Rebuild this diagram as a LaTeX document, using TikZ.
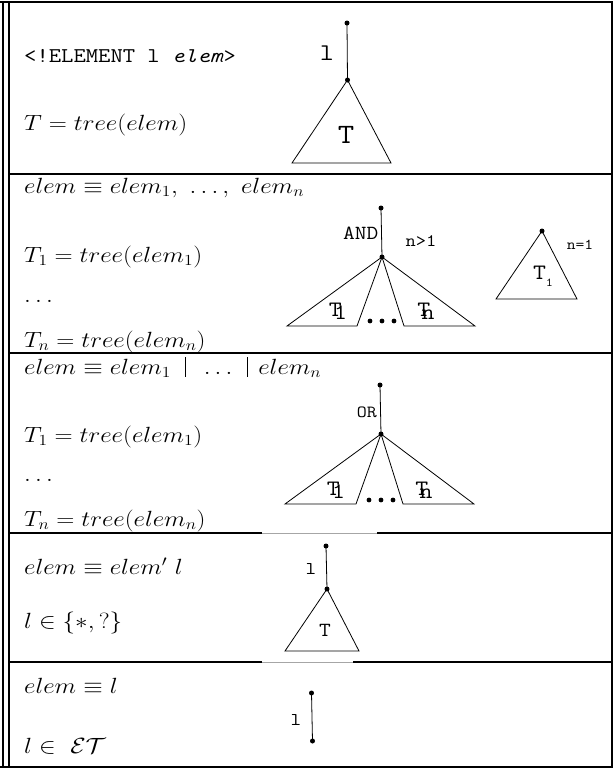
\RequirePackage{fix-cm}
\documentclass[tikz,border=0pt]{standalone}
\usepackage{graphicx}
\newcommand{\hx}[1]{\scalebox{1.14}[1]{#1}}
\newcommand{\Tsub}[2]{T\kern#1\raisebox{-0.15em}{#2}}
\newcommand{\tallbar}{\vrule height 17pt depth 2.5pt width 0.6pt}
\tikzset{
  frameline/.style={line width=2pt},
  sepline/.style={line width=2pt},
  fadedline/.style={line width=0.8pt, black!35},
  edge/.style={line width=0.8pt},
  dot/.style={circle, fill=black, inner sep=0pt, minimum size=5pt},
  smalldot/.style={circle, fill=black, inner sep=0pt, minimum size=4.8pt},
  mathtext/.style={anchor=base west, inner sep=0pt, font=\fontsize{22}{26}\selectfont},
  lbl/.style={inner sep=0pt},
}
\begin{document}
\begin{tikzpicture}[x=1pt,y=-1pt]
\useasboundingbox (0,0) rectangle (614,772);
\fill[white] (0,0) rectangle (614,772);
% outer frame
\draw[frameline] (0,1.5) -- (613,1.5);
\draw[frameline] (0,767) -- (613,767);
\draw[frameline] (3,1.5) -- (3,767);
\draw[frameline] (8.5,1.5) -- (8.5,767);
\draw[frameline] (611.5,1.5) -- (611.5,767);
% row separators
\draw[sepline] (8.5,174) -- (611.5,174);
\draw[sepline] (8.5,353) -- (611.5,353);
\draw[sepline] (8.5,533) -- (262,533);
\draw[sepline] (377,533) -- (611.5,533);
\draw[fadedline] (262,533) -- (377,533);
\draw[sepline] (8.5,662) -- (262,662);
\draw[sepline] (353,662) -- (611.5,662);
\draw[fadedline] (262,662) -- (353,662);

% ---------- row 1 ----------
\node[mathtext] (r1a) at (24,62) {\hx{\fontsize{21}{25}\selectfont\ttfamily <!ELEMENT l \textit{elem}>}};
\node[mathtext] (r1b) at (24,130) {\hx{$T = tree(elem)$}};
\node[dot] (a1) at (347,23) {};
\node[dot] (a2) at (347.5,80) {};
\coordinate (a3) at (292,163);
\coordinate (a4) at (391,163);
\draw[edge] (a1.center) -- (a2.center);
\draw[edge] (a2.center) -- (a3) -- (a4) -- cycle;
\node[lbl, font=\fontsize{24}{28}\selectfont\ttfamily] (al) at (327,53) {\hx{l}};
\node[lbl, font=\fontsize{28}{32}\selectfont\ttfamily] (aT) at (346,135) {\hx{T}};

% ---------- row 2 ----------
\node[mathtext] (r2a) at (24,193) {\hx{$elem \equiv elem_1,\ \ldots,\ elem_n$}};
\node[mathtext] (r2b) at (24,262) {\hx{$T_1 = tree(elem_1)$}};
\node[mathtext] (r2c) at (24,302) {\hx{$\ldots$}};
\node[mathtext] (r2d) at (24,347) {\hx{$T_n = tree(elem_n)$}};
\node[dot] (b1) at (381,208) {};
\node[dot] (b2) at (382,257) {};
\coordinate (b3) at (287,326);
\coordinate (b4) at (357,326);
\coordinate (b5) at (404,326);
\coordinate (b6) at (475,326);
\draw[edge] (b1.center) -- (b2.center);
\draw[edge] (b2.center) -- (b3) -- (b4) -- cycle;
\draw[edge] (b2.center) -- (b5) -- (b6) -- cycle;
\node[smalldot] (bd1) at (370,321) {};
\node[smalldot] (bd2) at (382,321) {};
\node[smalldot] (bd3) at (394,321) {};
\node[lbl, anchor=east, font=\fontsize{20}{24}\selectfont\ttfamily] (bl) at (378.5,233) {\hx{AND}};
\node[lbl, font=\fontsize{17.5}{20}\selectfont\ttfamily] (bn) at (421,241) {\hx{n>1}};
\node[lbl, anchor=base, font=\fontsize{22}{26}\selectfont\ttfamily] (bt1) at (338,316.5) {\hx{\Tsub{-0.3em}{1}}};
\node[lbl, anchor=base, font=\fontsize{22}{26}\selectfont\ttfamily] (btn) at (426,316.5) {\hx{\Tsub{-0.35em}{n}}};
% n = 1 case
\node[dot] (c1) at (542,231) {};
\coordinate (c2) at (496,299);
\coordinate (c3) at (577,299);
\draw[edge] (c1.center) -- (c2) -- (c3) -- cycle;
\node[lbl, font=\fontsize{22}{26}\selectfont\ttfamily] (ct) at (543,276) {\hx{T\raisebox{-0.3em}{\fontsize{12}{14}\selectfont 1}}};
\node[lbl, font=\fontsize{15}{18}\selectfont\ttfamily] (cn) at (580,245) {\hx{n=1}};

% ---------- row 3 ----------
\node[mathtext] (r3a) at (24,374) {\hx{$elem \equiv elem_1 \;\;\tallbar\;\; \ldots \;\;\tallbar\; elem_n$}};
\node[mathtext] (r3b) at (24,442) {\hx{$T_1 = tree(elem_1)$}};
\node[mathtext] (r3c) at (24,481) {\hx{$\ldots$}};
\node[mathtext] (r3d) at (24,526) {\hx{$T_n = tree(elem_n)$}};
\node[dot] (d1) at (380,385) {};
\node[dot] (d2) at (381,434) {};
\coordinate (d3) at (285,504);
\coordinate (d4) at (356,504);
\coordinate (d5) at (403,504);
\coordinate (d6) at (474,504);
\draw[edge] (d1.center) -- (d2.center);
\draw[edge] (d2.center) -- (d3) -- (d4) -- cycle;
\draw[edge] (d2.center) -- (d5) -- (d6) -- cycle;
\node[smalldot] (dd1) at (369,500) {};
\node[smalldot] (dd2) at (381,500) {};
\node[smalldot] (dd3) at (393,500) {};
\node[lbl, anchor=east, font=\fontsize{17}{20}\selectfont\ttfamily] (dl) at (377,412) {\hx{OR}};
\node[lbl, anchor=base, font=\fontsize{22}{26}\selectfont\ttfamily] (dt1) at (336,495) {\hx{\Tsub{-0.3em}{1}}};
\node[lbl, anchor=base, font=\fontsize{22}{26}\selectfont\ttfamily] (dtn) at (424,495) {\hx{\Tsub{-0.35em}{n}}};

% ---------- row 4 ----------
\node[mathtext] (r4a) at (24,574) {\hx{$elem \equiv elem'\ l$}};
\node[mathtext] (r4b) at (24,628) {\hx{$l \in \{*, ?\}$}};
\node[dot] (e1) at (326,546) {};
\node[dot] (e2) at (327,589) {};
\coordinate (e3) at (285,651);
\coordinate (e4) at (359,651);
\draw[edge] (e1.center) -- (e2.center);
\draw[edge] (e2.center) -- (e3) -- (e4) -- cycle;
\node[lbl, font=\fontsize{18}{22}\selectfont\ttfamily] (el) at (311,569) {\hx{l}};
\node[lbl, font=\fontsize{20}{24}\selectfont\ttfamily] (eT) at (325,630) {\hx{T}};

% ---------- row 5 ----------
\node[mathtext] (r5a) at (24,693) {\hx{$elem \equiv l$}};
\node[mathtext] (r5b) at (24,753) {\hx{$l \in\ \mathcal{ET}$}};
\node[dot] (f1) at (311.5,693) {};
\node[dot] (f2) at (312.5,741) {};
\draw[edge] (f1.center) -- (f2.center);
\node[lbl, font=\fontsize{18}{22}\selectfont\ttfamily] (fl) at (296,720) {\hx{l}};
\end{tikzpicture}
\end{document}
